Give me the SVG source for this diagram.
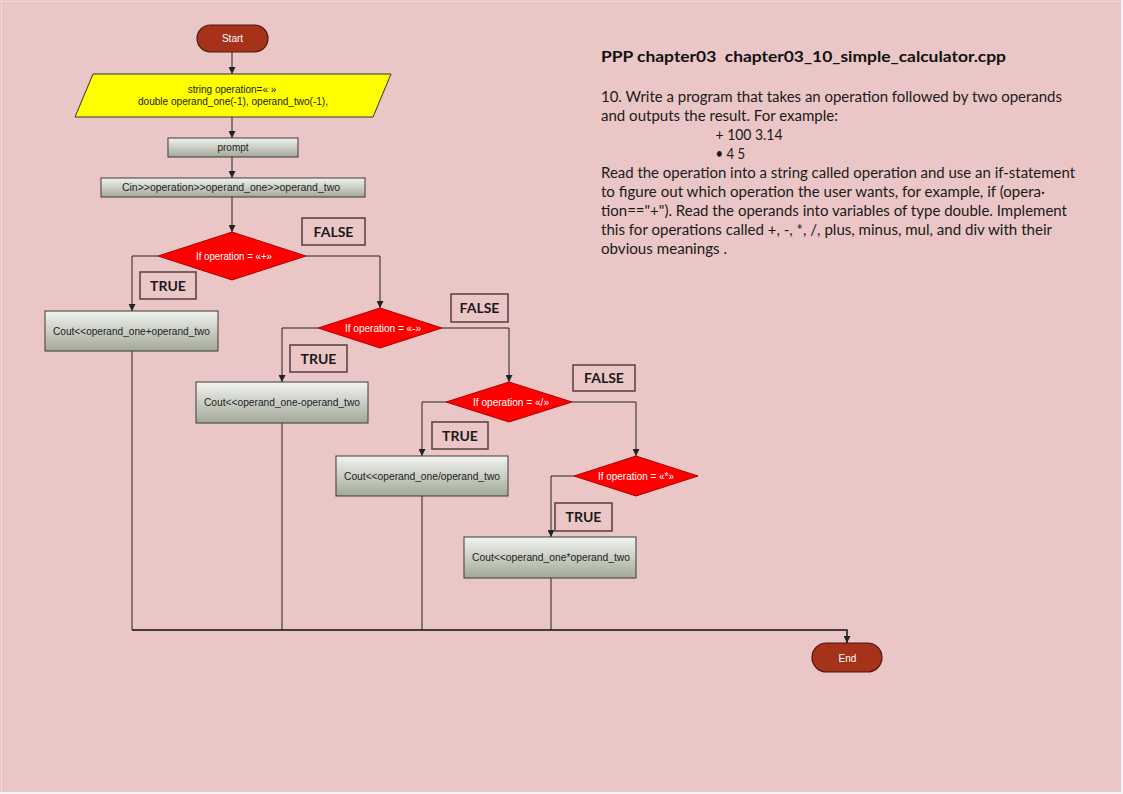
<svg xmlns="http://www.w3.org/2000/svg" width="1123" height="794" viewBox="0 0 1123 794">
<defs>
<linearGradient id="boxg" x1="0" y1="0" x2="0" y2="1">
<stop offset="0" stop-color="#f2f3ef"/>
<stop offset="1" stop-color="#a2a998"/>
</linearGradient>
<marker id="arr" viewBox="0 0 10 10" refX="10" refY="5" markerWidth="7" markerHeight="7" orient="auto" markerUnits="userSpaceOnUse">
<path d="M0,0 L10,5 L0,10 z" fill="#222"/>
</marker>
<style>
.proc{fill:url(#boxg);stroke:#3a3a3a;stroke-width:1}
.dia{fill:#ff0000;stroke:#b00000;stroke-width:1}
.term{fill:#a6321a;stroke:#4a1a0f;stroke-width:1.2}
.lbl{fill:none;stroke:#5a3c3c;stroke-width:1.5}
.t{font-family:"Liberation Sans",Arial,sans-serif;font-size:10px;fill:#222;text-anchor:middle}
.tw{font-family:"Liberation Sans",Arial,sans-serif;font-size:10px;fill:#fff;text-anchor:middle}
.lt{font-family:Lato,"Open Sans",sans-serif;font-size:14px;font-weight:bold;fill:#1a1a1a;text-anchor:middle}
.body{font-family:Lato,"Open Sans",sans-serif;font-size:14.5px;fill:#1a1a1a}
.title{font-family:Lato,"Open Sans",sans-serif;font-size:16px;font-weight:bold;fill:#111;white-space:pre}
.c{fill:none;stroke:#222;stroke-width:1}
</style>
</defs>
<rect x="0" y="0" width="1123" height="794" fill="#f3f3f3"/>
<rect x="0" y="0" width="1121" height="792" fill="#ebc6c6"/>
<line x1="1.5" y1="0" x2="1.5" y2="792" stroke="#f1d9d9" stroke-width="1"/>
<line x1="0" y1="1.5" x2="1121" y2="1.5" stroke="#f1d9d9" stroke-width="1"/>

<g id="connectors">
<line class="c" x1="232" y1="52" x2="232" y2="74" marker-end="url(#arr)"/>
<line class="c" x1="232" y1="117" x2="232" y2="138" marker-end="url(#arr)"/>
<line class="c" x1="232" y1="157" x2="232" y2="178" marker-end="url(#arr)"/>
<line class="c" x1="232" y1="197" x2="232" y2="232" marker-end="url(#arr)"/>
<polyline class="c" points="158,256 132,256 132,311" marker-end="url(#arr)"/>
<polyline class="c" points="306,256 380,256 380,308" marker-end="url(#arr)"/>
<polyline class="c" points="318,328 282,328 282,382" marker-end="url(#arr)"/>
<polyline class="c" points="442,328 509,328 509,382" marker-end="url(#arr)"/>
<polyline class="c" points="446,402 422,402 422,456" marker-end="url(#arr)"/>
<polyline class="c" points="572,402 636,402 636,456" marker-end="url(#arr)"/>
<polyline class="c" points="574,476 551,476 551,537" marker-end="url(#arr)"/>
<line class="c" x1="132" y1="351" x2="132" y2="630"/>
<line class="c" x1="282" y1="423" x2="282" y2="630"/>
<line class="c" x1="422" y1="496" x2="422" y2="630"/>
<line class="c" x1="551" y1="578" x2="551" y2="630"/>
<polyline class="c" style="stroke-width:1.5;stroke:#111" points="132,630 847,630 847,643" marker-end="url(#arr)"/>
</g>

<g id="start">
<rect class="term" x="197" y="25" width="71" height="27" rx="13.5"/>
<text class="tw" x="232.5" y="41.5">Start</text>
</g>

<g id="init">
<polygon points="93,74 391,74 373,117 75,117" fill="#ffff00" stroke="#333" stroke-width="1"/>
<text class="t" x="232" y="93" font-size="9.5">string operation=« »</text>
<text class="t" x="233" y="105" font-size="9.5" textLength="190" lengthAdjust="spacingAndGlyphs">double operand_one(-1), operand_two(-1),</text>
</g>

<g id="prompt">
<rect class="proc" x="168" y="138" width="130" height="19"/>
<text class="t" x="233" y="151">prompt</text>
</g>

<g id="cin">
<rect class="proc" x="101" y="178" width="264" height="19"/>
<text class="t" x="231" y="191" textLength="218" lengthAdjust="spacingAndGlyphs">Cin&gt;&gt;operation&gt;&gt;operand_one&gt;&gt;operand_two</text>
</g>

<g id="if_plus">
<polygon class="dia" points="232,232 306,256 232,280 158,256"/>
<text class="tw" x="234" y="259.5" textLength="76" lengthAdjust="spacingAndGlyphs">If operation = «+»</text>
</g>
<g id="false1"><rect class="lbl" x="302" y="218" width="63" height="27"/><text class="lt" x="333.5" y="236.5">FALSE</text></g>
<g id="true1"><rect class="lbl" x="140" y="272" width="56" height="27"/><text class="lt" x="168" y="290.5">TRUE</text></g>
<g id="out_plus">
<rect class="proc" x="45" y="311" width="173" height="40"/>
<text class="t" x="131.5" y="334.5" textLength="157" lengthAdjust="spacingAndGlyphs">Cout&lt;&lt;operand_one+operand_two</text>
</g>

<g id="if_minus">
<polygon class="dia" points="380,308 442,328 380,348 318,328"/>
<text class="tw" x="383" y="331.5" textLength="76" lengthAdjust="spacingAndGlyphs">If operation = «-»</text>
</g>
<g id="false2"><rect class="lbl" x="451" y="294" width="57" height="28"/><text class="lt" x="479.5" y="313">FALSE</text></g>
<g id="true2"><rect class="lbl" x="290" y="345" width="57" height="27"/><text class="lt" x="318.5" y="363.5">TRUE</text></g>
<g id="out_minus">
<rect class="proc" x="196" y="382" width="172" height="41"/>
<text class="t" x="282" y="406" textLength="156" lengthAdjust="spacingAndGlyphs">Cout&lt;&lt;operand_one-operand_two</text>
</g>

<g id="if_div">
<polygon class="dia" points="509,382 572,402 509,422 446,402"/>
<text class="tw" x="511" y="405.5" textLength="76" lengthAdjust="spacingAndGlyphs">If operation = «/»</text>
</g>
<g id="false3"><rect class="lbl" x="573" y="365" width="62" height="26"/><text class="lt" x="604" y="383">FALSE</text></g>
<g id="true3"><rect class="lbl" x="432" y="422" width="56" height="27"/><text class="lt" x="460" y="440.5">TRUE</text></g>
<g id="out_div">
<rect class="proc" x="336" y="456" width="172" height="40"/>
<text class="t" x="422" y="479.5" textLength="156" lengthAdjust="spacingAndGlyphs">Cout&lt;&lt;operand_one/operand_two</text>
</g>

<g id="if_mul">
<polygon class="dia" points="636,456 698,476 636,496 574,476"/>
<text class="tw" x="636" y="479.5" textLength="76" lengthAdjust="spacingAndGlyphs">If operation = «*»</text>
</g>
<g id="true4"><rect class="lbl" x="555" y="503" width="57" height="28"/><text class="lt" x="583.5" y="522">TRUE</text></g>
<g id="out_mul">
<rect class="proc" x="464" y="537" width="172" height="41"/>
<text class="t" x="551" y="561" textLength="158" lengthAdjust="spacingAndGlyphs">Cout&lt;&lt;operand_one*operand_two</text>
</g>

<g id="end">
<rect class="term" x="812" y="643" width="70" height="29" rx="14.5"/>
<text class="tw" x="847.5" y="661.5" font-size="11.5" font-family="Lato,'Open Sans',sans-serif">End</text>
</g>

<g id="description">
<text class="title" x="601" y="61.5" xml:space="preserve" textLength="405" lengthAdjust="spacingAndGlyphs">PPP chapter03  chapter03_10_simple_calculator.cpp</text>
<text class="body" x="601" y="101.5" textLength="461" lengthAdjust="spacingAndGlyphs">10. Write a program that takes an operation followed by two operands</text>
<text class="body" x="601" y="120.5" textLength="237" lengthAdjust="spacingAndGlyphs">and outputs the result. For example:</text>
<text class="body" x="715.5" y="139.5" textLength="67" lengthAdjust="spacingAndGlyphs">+ 100 3.14</text>
<text class="body" x="715.5" y="158.5" textLength="29.5" lengthAdjust="spacingAndGlyphs">• 4 5</text>
<text class="body" x="601" y="177.5" textLength="474" lengthAdjust="spacingAndGlyphs">Read the operation into a string called operation and use an if-statement</text>
<text class="body" x="601" y="196.5" textLength="444" lengthAdjust="spacingAndGlyphs">to figure out which operation the user wants, for example, if (opera·</text>
<text class="body" x="601" y="216" textLength="466" lengthAdjust="spacingAndGlyphs">tion=="+"). Read the operands into variables of type double. Implement</text>
<text class="body" x="601" y="235" textLength="451" lengthAdjust="spacingAndGlyphs">this for operations called +, -, *, /, plus, minus, mul, and div with their</text>
<text class="body" x="601" y="253.5" textLength="126" lengthAdjust="spacingAndGlyphs">obvious meanings .</text>
</g>
</svg>
